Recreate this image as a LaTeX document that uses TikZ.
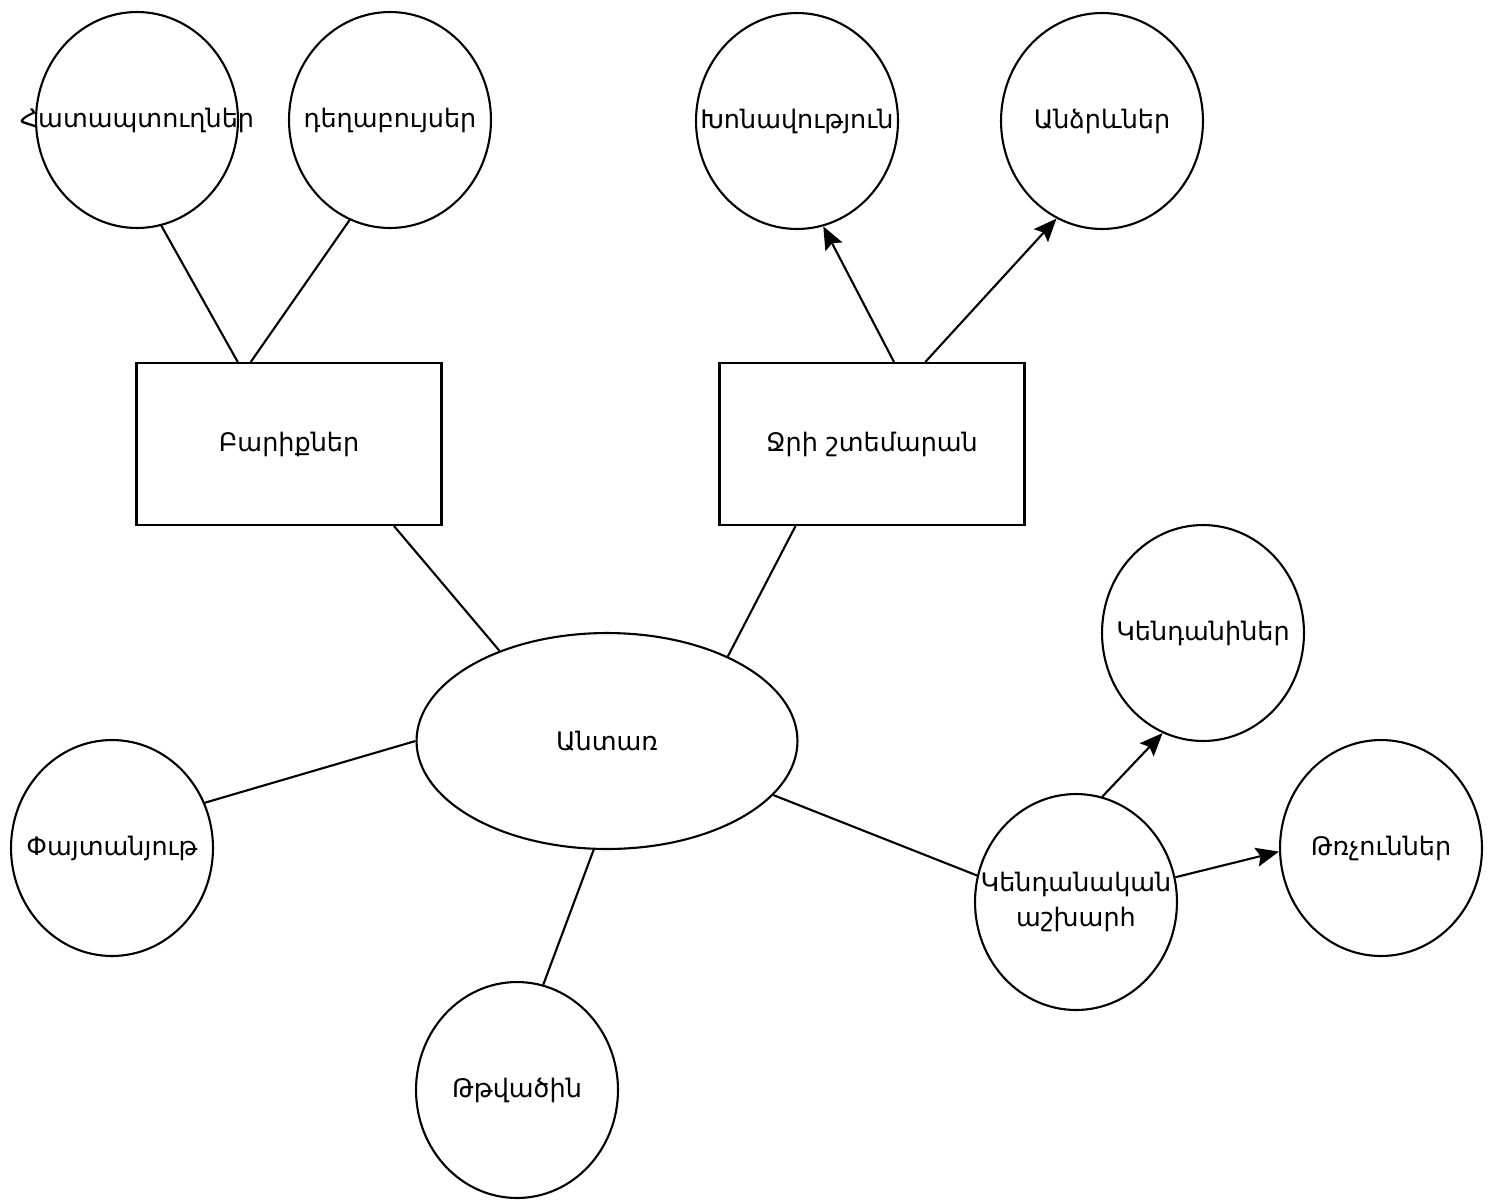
\documentclass[tikz,border=0pt]{standalone}
\usepackage{fontspec}
\setmainfont{DejaVu Sans}
\usetikzlibrary{shapes.geometric,arrows.meta}
\tikzset{
  bubble/.style={draw, ellipse, line width=1.2pt, fill=white, minimum width=4.04cm, minimum height=4.32cm, inner sep=0pt},
  itembox/.style={draw, rectangle, line width=1.2pt, fill=white, minimum width=6.1cm, minimum height=3.24cm, inner sep=0pt},
  link/.style={line width=1.2pt},
  arr/.style={line width=1.2pt, -{Stealth[length=0.46cm,width=0.38cm,inset=0.08cm]}}
}
\newcommand{\lbl}[1]{\makebox[0pt]{#1}}
\begin{document}
\begin{tikzpicture}[x=0.02cm, y=-0.02cm, font=\fontsize{14.5}{20}\selectfont]
    \useasboundingbox (0,0) rectangle (1494,1201);

    % Center
    \node[ellipse, draw, line width=1.2pt, minimum width=7.62cm, minimum height=4.32cm, inner sep=0pt] (forest) at (607,741) {\lbl{Անտառ}};

    % Boxes
    \node[itembox] (goods) at (289,444) {\lbl{Բարիքներ}};
    \node[itembox] (water) at (872,444) {\lbl{Ջրի շտեմարան}};

    % Circles
    \node[bubble] (berries) at (137,120) {\lbl{Հատապտուղներ}};
    \node[bubble] (herbs) at (390,120) {\lbl{դեղաբույսեր}};
    \node[bubble] (humid) at (797,121) {\lbl{Խոնավություն}};
    \node[bubble] (rain) at (1102,121) {\lbl{Անձրևներ}};
    \node[bubble] (wood) at (112,848) {\lbl{Փայտանյութ}};
    \node[bubble] (oxygen) at (517,1090) {\lbl{Թթվածին}};
    \node[bubble] (fauna) at (1076,902) {\lbl{\begin{tabular}{@{}c@{}}Կենդանական\\աշխարհ\end{tabular}}};
    \node[bubble] (animals) at (1203,633) {\lbl{Կենդանիներ}};
    \node[bubble] (birds) at (1381,848) {\lbl{Թռչուններ}};

    % Lines
    \draw[link] (berries.-77) -- (goods.122);
    \draw[link] (herbs.-112) -- (goods.115);
    \draw[link] (goods.-38) -- (forest.140);
    \draw[link] (water.-133) -- (forest.35);
    \draw[link] (forest.west) -- (wood.26);
    \draw[link] (forest.-97) -- (oxygen.76);
    \draw[link] (forest.-18) -- (fauna.165);

    % Arrows
    \draw[arr] (water.75) -- (humid.-76);
    \draw[arr] (water.57) -- (rain.-115);
    \draw[arr] (fauna.76) -- (animals.-112);
    \draw[arr] (fauna.14) -- (birds.182);
\end{tikzpicture}
\end{document}
